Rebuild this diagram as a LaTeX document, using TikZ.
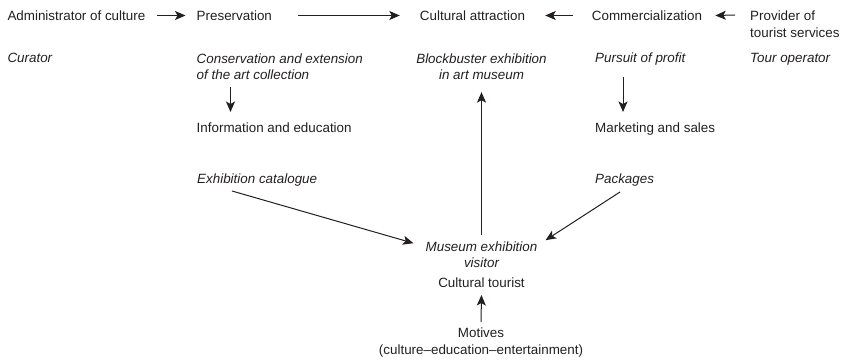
\documentclass[tikz,border=0pt]{standalone}
\usepackage{fontspec}
\setmainfont{Liberation Sans}
\usetikzlibrary{arrows.meta,calc}
\definecolor{ink}{HTML}{231F20}
\tikzset{
  txt/.style={inner sep=0pt, text=ink, font=\fontsize{13.4}{16.7}\selectfont},
  it/.style={txt, font=\fontsize{13.4}{16.7}\selectfont\itshape},
  arr/.style={draw=ink, line width=1pt, -{Stealth[length=10.5pt,width=9pt,inset=2.5pt]}}
}
\begin{document}
\begin{tikzpicture}[x=1pt,y=-1pt]
\useasboundingbox (0,0) rectangle (845,361);
% row 1
\node[txt, anchor=base west] (admin) at (7.3,20.5) {Administrator of culture};
\node[txt, anchor=base west] (pres) at (196.5,20.5) {Preservation};
\node[txt, anchor=base] (catt) at (472.5,20.5) {Cultural attraction};
\node[txt, anchor=base west] (comm) at (591.7,20.5) {Commercialization};
\node[txt, anchor=north west, align=left] (prov) at (750,10.7) {Provider of\\tourist services};
% row 2
\node[it, anchor=base west] (cur) at (7.3,63) {Curator};
\node[it, anchor=north west, align=left] (cons) at (196.5,53.2) {Conservation and extension\\of the art collection};
\node[it, anchor=north, align=center] (block) at (481.5,53.2) {Blockbuster exhibition\\in art museum};
\node[it, anchor=base west] (purs) at (595,63) {Pursuit of profit};
\node[it, anchor=base west] (tour) at (750,63) {Tour operator};
% row 3
\node[txt, anchor=base west] (info) at (196.5,132) {Information and education};
\node[txt, anchor=base west] (mark) at (595,132) {Marketing and sales};
% row 4
\node[it, anchor=base west] (cat) at (197,183.3) {Exhibition catalogue};
\node[it, anchor=base west] (pack) at (595,183.3) {Packages};
\node[it, anchor=north, align=center] (visitor) at (481.5,241.2) {Museum exhibition\\visitor};
\node[txt, anchor=base] (tourist) at (481.5,287) {Cultural tourist};
\node[txt, anchor=north, align=center] (motives) at (481,328) {Motives\\(culture–education–entertainment)};
% arrows
\draw[arr] ($(admin.base east)+(12,-5)$) -- ($(pres.base west)+(-11,-5)$);
\draw[arr] ($(pres.base east)+(26,-5)$) -- ($(catt.base west)+(-20,-5)$);
\draw[arr] ($(comm.base west)+(-19,-5)$) -- ($(catt.base east)+(20,-5)$);
\draw[arr] ($(prov.north west)+(-15,4.3)$) -- ($(comm.base east)+(13,-5)$);
\draw[arr] ($(cons.south west)+(34,7)$) -- ($(info.base west)+(34,-20)$);
\draw[arr] ($(purs.base west)+(28,14)$) -- ($(mark.base west)+(28,-20)$);
\draw[arr] ($(visitor.north)+(0,-6)$) -- ($(block.south)+(0,12)$);
\draw[arr] ($(cat.base west)+(35,7.7)$) -- ($(visitor.north west)+(-12,2)$);
\draw[arr] ($(pack.base west)+(25,8.7)$) -- ($(visitor.north east)+(8,-1)$);
\draw[arr] ($(motives.north)+(0,-6)$) -- ($(tourist.base)+(0,8)$);
\end{tikzpicture}
\end{document}
